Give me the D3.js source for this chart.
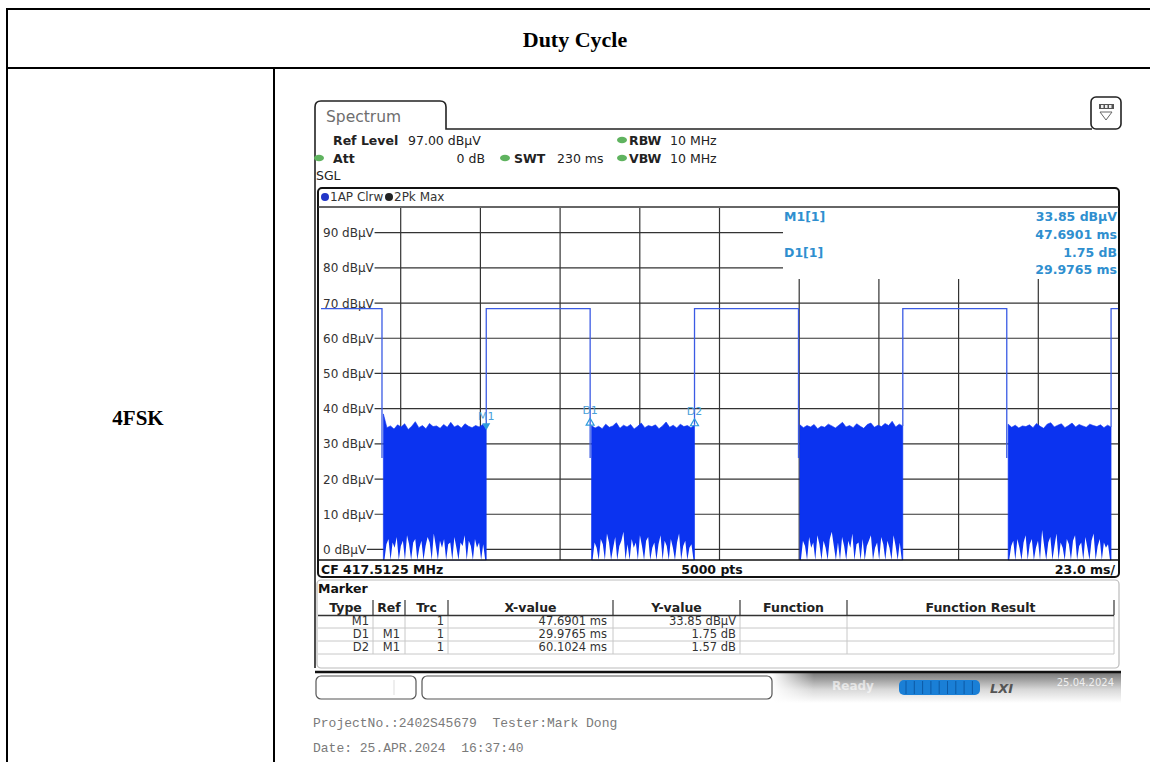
<!DOCTYPE html>
<meta charset="utf-8">
<head>
  <style>
    body { margin: 0; background: #fff; }
    svg text { font-family: "DejaVu Sans", Verdana, sans-serif; }
    .serif { font-family: "Liberation Serif", "Times New Roman", serif !important; font-weight: bold; }
    .mono { font-family: "Liberation Mono", "Courier New", monospace !important; fill: #7a7a7a; white-space: pre; }
  </style>
</head>
<body>
<div id="chart"></div>
<script src="https://d3js.org/d3.v7.min.js"></script>
<script>

// trace: high (carrier on) segments, in ms
var highStart = [0, 47.69, 107.79, 167.9, 228.0];
var highEnd = [17.6, 77.67, 137.8, 197.9, 230];
var highLevel = 68.4; // dBµV

// noise bursts between the pulses (dBµV)
var burstTop = [
  [38.5, 34.6, 35.1, 34.2, 35.4, 34.8, 35.7, 34.1, 35.0, 36.3, 34.6, 35.2, 34.3, 35.8, 34.9, 35.1, 34.4, 35.5, 34.7, 36.1, 34.8, 35.3, 34.5, 35.7, 35.0, 34.6, 35.2, 34.8, 35.5, 34.3],
  [35.2, 34.5, 35.0, 34.3, 35.6, 34.7, 35.1, 36.0, 34.4, 35.3, 34.8, 35.5, 34.2, 35.0, 35.9, 34.6, 35.2, 34.9, 35.4, 34.3, 35.1, 36.2, 34.7, 35.3, 34.5, 35.6, 34.9, 35.2, 34.6, 35.4],
  [35.4, 34.6, 35.2, 34.8, 35.5, 34.3, 35.0, 34.7, 35.6, 35.1, 34.5, 35.3, 36.1, 34.8, 35.2, 34.6, 35.7, 35.0, 34.4, 35.5, 35.9, 34.7, 35.3, 34.9, 35.8, 35.2, 36.4, 34.8, 35.6, 35.1],
  [35.6, 34.7, 35.3, 34.5, 35.1, 34.9, 35.4, 34.6, 35.8, 35.0, 34.4, 35.6, 36.0, 34.8, 35.3, 35.7, 34.6, 35.2, 35.9, 34.8, 35.5, 35.1, 34.7, 35.6, 35.2, 34.9, 35.4, 34.6, 35.3, 34.8]
];
// lower edge of the solid blue, where the white gaps between the bottom spikes reach up to
var burstBottom = [
  [-3, 1.5, 3.0, -3, 2.0, 0.5, 3.5, -3, 1.0, 2.5, -3, 4.0, 1.5, -3, 2.0, 3.0, -3, 0.5, 2.5, -3, 1.0, 3.5, 2.0, -3, 4.5, 1.0, -3, 2.5, 0.5, 3.0, -3, 1.5, 2.0, -3, 3.5, 0.5, -3, 2.0, 1.0, 4.0, -3, 2.5, 1.0, -3, 3.0, 0.5, 2.0, -3, 1.5, -3],
  [-3, 2.0, 0.5, -3, 3.0, 1.5, -3, 4.5, 2.0, -3, 0.5, 3.5, -3, 1.0, 2.5, 5.0, -3, 1.5, -3, 3.0, 0.5, 2.0, -3, 4.0, 1.0, -3, 2.5, 3.5, -3, 0.5, 2.0, -3, 1.5, 4.0, -3, 2.5, 1.0, -3, 3.0, 0.5, -3, 2.0, 4.5, -3, 1.0, 2.5, -3, 0.5, 1.5, -3],
  [-3, 2.5, 1.0, -3, 3.5, 0.5, 2.0, -3, 4.0, 1.5, -3, 2.5, 0.5, -3, 3.0, 5.0, 1.0, -3, 2.0, -3, 3.5, 1.0, -3, 2.5, 0.5, 4.5, -3, 1.5, 2.0, -3, 3.0, -3, 1.0, 2.5, 4.0, -3, 0.5, 2.0, -3, 3.5, 1.5, -3, 2.5, 0.5, -3, 4.0, 1.0, -3, 2.0, -3],
  [-3, 1.0, 2.5, -3, 3.0, 0.5, -3, 2.0, 4.0, -3, 1.5, 3.0, -3, 0.5, 2.5, -3, 5.5, 1.0, -3, 2.0, 3.5, -3, 1.0, 4.5, -3, 2.0, 0.5, -3, 3.0, 1.5, -3, 2.5, 4.0, -3, 1.0, 2.0, -3, 3.5, 0.5, -3, 2.5, 4.5, -3, 1.0, 3.0, -3, 2.0, 0.5, 1.5, -3]
];

var yTicks = [0, 10, 20, 30, 40, 50, 60, 70, 80, 90];
var gridTimes = [23, 46, 69, 92, 115, 138, 161, 184, 207];

var markerTime = [47.6901, 77.6666, 107.7925];
var markerLevel = [33.85, 35.6, 35.42];

var tblType = ["M1", "D1", "D2"];
var tblRef = ["", "M1", "M1"];
var tblTrc = ["1", "1", "1"];
var tblX = ["47.6901 ms", "29.9765 ms", "60.1024 ms"];
var tblY = ["33.85 dBµV", "1.75 dB", "1.57 dB"];
var tblHead = ["Type", "Ref", "Trc", "X-value", "Y-value", "Function", "Function Result"];

var svg = d3.select("#chart").append("svg")
  .attr("width", 1150).attr("height", 762);

// ---- outer report table ----
var black = "#000";
svg.append("line").attr("x1", 7).attr("x2", 1150).attr("y1", 9).attr("y2", 9).attr("stroke", black).attr("stroke-width", 2);
svg.append("line").attr("x1", 7).attr("x2", 1150).attr("y1", 68).attr("y2", 68).attr("stroke", black).attr("stroke-width", 2);
svg.append("line").attr("x1", 7).attr("x2", 7).attr("y1", 8).attr("y2", 762).attr("stroke", black).attr("stroke-width", 2);
svg.append("line").attr("x1", 274).attr("x2", 274).attr("y1", 68).attr("y2", 762).attr("stroke", black).attr("stroke-width", 2);
svg.append("text").attr("class", "serif").attr("x", 575).attr("y", 47)
  .attr("text-anchor", "middle").attr("font-size", 22).text("Duty Cycle");
svg.append("text").attr("class", "serif").attr("x", 138).attr("y", 425)
  .attr("text-anchor", "middle").attr("font-size", 21).text("4FSK");

// ---- instrument screen ----
var g = svg.append("g");

// tab + panel line
g.append("path")
  .attr("d", "M315,668 V107 Q315,101 321,101 H440 Q446,101 446,107 V129 H1092")
  .attr("fill", "none").attr("stroke", "#222").attr("stroke-width", 1.6);
g.append("text").attr("x", 326).attr("y", 122).attr("font-size", 15.5).attr("fill", "#6e6e6e").text("Spectrum");

// top-right icon
g.append("rect").attr("x", 1091).attr("y", 97).attr("width", 30).attr("height", 32).attr("rx", 5)
  .attr("fill", "#fff").attr("stroke", "#222").attr("stroke-width", 1.6);
g.append("rect").attr("x", 1099).attr("y", 104).attr("width", 15).attr("height", 5).attr("fill", "#555");
[1101, 1105, 1109].forEach(function(x) {
  g.append("rect").attr("x", x).attr("y", 105).attr("width", 2.5).attr("height", 3).attr("fill", "#eee");
});
g.append("path").attr("d", "M1100,112 L1112,112 L1106,120 Z").attr("fill", "#fff").attr("stroke", "#666");

// settings text
function dot(x, y) {
  g.append("ellipse").attr("cx", x).attr("cy", y).attr("rx", 5).attr("ry", 3.3).attr("fill", "#5fb35f");
}
function txt(x, y, s, bold, anchor) {
  return g.append("text").attr("x", x).attr("y", y).attr("font-size", 12.5)
    .attr("font-weight", bold ? "bold" : "normal").attr("fill", "#222")
    .attr("text-anchor", anchor || "start").text(s);
}
txt(333, 145, "Ref Level", true);
txt(408, 145, "97.00 dBµV");
dot(622, 140); txt(629, 145, "RBW", true); txt(670, 145, "10 MHz");
dot(319, 158); txt(333, 163, "Att", true);
txt(485, 163, "0 dB", false, "end");
dot(505, 158); txt(514, 163, "SWT", true); txt(557, 163, "230 ms");
dot(622, 158); txt(629, 163, "VBW", true); txt(670, 163, "10 MHz");
txt(316, 180, "SGL");

// diagram frame
g.append("rect").attr("x", 318).attr("y", 188).attr("width", 801).attr("height", 389).attr("rx", 4)
  .attr("fill", "#fff").attr("stroke", "#111").attr("stroke-width", 2);
g.append("line").attr("x1", 318).attr("x2", 1119).attr("y1", 207).attr("y2", 207).attr("stroke", "#333").attr("stroke-width", 1.5);
g.append("circle").attr("cx", 325).attr("cy", 197).attr("r", 4).attr("fill", "#2236c8");
g.append("text").attr("x", 330).attr("y", 201).attr("font-size", 12).attr("fill", "#333").text("1AP Clrw");
g.append("circle").attr("cx", 389).attr("cy", 197).attr("r", 4).attr("fill", "#222");
g.append("text").attr("x", 394).attr("y", 201).attr("font-size", 12).attr("fill", "#333").text("2Pk Max");

var x = d3.scaleLinear().domain([0, 230]).range([321, 1118]);
var y = d3.scaleLinear().domain([-3, 97]).range([560, 208]);

// marker info box region (grid hidden there)
var infoLeft = 783, infoBottom = 279;

var grid = g.append("g").attr("stroke", "#333").attr("stroke-width", 1.2);
gridTimes.forEach(function(t) {
  var px = x(t);
  grid.append("line").attr("x1", px).attr("x2", px)
    .attr("y1", px > infoLeft ? infoBottom : 208).attr("y2", 560);
});
yTicks.forEach(function(v) {
  grid.append("line").attr("x1", 321)
    .attr("x2", y(v) < infoBottom ? infoLeft : 1118)
    .attr("y1", y(v)).attr("y2", y(v));
});
yTicks.forEach(function(v) {
  var t = g.append("text").attr("x", 323).attr("y", y(v) + 4.5).attr("font-size", 12).attr("fill", "#333")
    .text(v + " dBµV");
  var bb = t.node().getBBox();
  g.insert("rect", function() { return t.node(); })
    .attr("x", 319.5).attr("y", bb.y).attr("width", bb.x + bb.width - 319.5).attr("height", bb.height)
    .attr("fill", "#fff");
});

// noise bursts: solid blue under the top envelope, white gaps cut from below
var fillBlue = "#0b33f0";
burstTop.forEach(function(top, b) {
  var t0 = highEnd[b] + 0.4, t1 = highStart[b + 1];
  var ix = d3.scaleLinear().domain([0, top.length - 1]).range([x(t0), x(t1)]);
  var area = d3.area()
    .x(function(d, i) { return ix(i); })
    .y1(function(d) { return y(d); })
    .y0(y(-3));
  g.append("path").datum(top).attr("d", area).attr("fill", fillBlue)
    .attr("stroke", fillBlue).attr("stroke-width", 0.6);

  var bot = burstBottom[b];
  var jx = d3.scaleLinear().domain([0, bot.length - 1]).range([x(t0) + 1, x(t1) - 1]);
  var gaps = d3.area()
    .x(function(d, i) { return jx(i); })
    .y1(function(d) { return y(d); })
    .y0(y(-3));
  g.append("path").datum(bot).attr("d", gaps).attr("fill", "#fff");
});

// pulse trace
var lineBlue = "#3b5be4";
var trace = d3.line().x(function(d) { return x(d[0]); }).y(function(d) { return y(d[1]); });
highStart.forEach(function(s, i) {
  var e = highEnd[i], pts = [];
  if (s > 0) pts.push([s, burstTop[i - 1][burstTop[i - 1].length - 1]]);
  pts.push([s, highLevel], [e, highLevel]);
  if (e < 230) pts.push([e, 26]);
  g.append("path").attr("d", trace(pts)).attr("fill", "none")
    .attr("stroke", lineBlue).attr("stroke-width", 1.3);
});

// markers
var mkColor = "#2f9bdc";
markerTime.forEach(function(t, i) {
  var px = x(t), py = y(markerLevel[i]);
  var label = i === 0 ? "M1" : "D" + i;
  if (i === 0) {
    g.append("path").attr("d", "M" + (px - 4) + "," + (py - 7) + " L" + (px + 4) + "," + (py - 7) + " L" + px + "," + py + " Z")
      .attr("fill", mkColor);
  } else {
    g.append("path").attr("d", "M" + (px - 4) + "," + (py + 1) + " L" + (px + 4) + "," + (py + 1) + " L" + px + "," + (py - 6) + " Z")
      .attr("fill", "none").attr("stroke", mkColor).attr("stroke-width", 1.2);
  }
  g.append("text").attr("x", px).attr("y", py - 10).attr("text-anchor", "middle")
    .attr("font-size", 11).attr("fill", "#4a9fd8").text(label);
});

// marker info text
var info = [["M1[1]", "33.85 dBµV", 221], ["", "47.6901 ms", 239], ["D1[1]", "1.75 dB", 257], ["", "29.9765 ms", 274]];
info.forEach(function(r) {
  g.append("text").attr("x", 784).attr("y", r[2]).attr("font-size", 12.5).attr("font-weight", "bold")
    .attr("fill", "#2f8fcf").text(r[0]);
  g.append("text").attr("x", 1117).attr("y", r[2]).attr("font-size", 12.5).attr("font-weight", "bold")
    .attr("fill", "#2f8fcf").attr("text-anchor", "end").text(r[1]);
});

// bottom axis bar
g.append("line").attr("x1", 318).attr("x2", 1119).attr("y1", 560).attr("y2", 560).attr("stroke", "#111").attr("stroke-width", 1.5);
g.append("text").attr("x", 321).attr("y", 574).attr("font-size", 12.5).attr("font-weight", "bold").attr("fill", "#111").text("CF 417.5125 MHz");
g.append("text").attr("x", 712).attr("y", 574).attr("font-size", 12.5).attr("font-weight", "bold").attr("fill", "#111").attr("text-anchor", "middle").text("5000 pts");
g.append("text").attr("x", 1115).attr("y", 574).attr("font-size", 12.5).attr("font-weight", "bold").attr("fill", "#111").attr("text-anchor", "end").text("23.0 ms/");

// marker table
g.append("rect").attr("x", 317).attr("y", 580).attr("width", 802).attr("height", 88).attr("rx", 4)
  .attr("fill", "#fff").attr("stroke", "#bbb").attr("stroke-width", 1.2);
g.append("text").attr("x", 318).attr("y", 593).attr("font-size", 12.5).attr("font-weight", "bold").attr("fill", "#111").text("Marker");
var cols = [318, 373, 405, 448, 613, 740, 847, 1114];
var rowY = [621, 634, 647];
tblHead.forEach(function(h, i) {
  g.append("text").attr("x", (cols[i] + cols[i + 1]) / 2).attr("y", 612).attr("text-anchor", "middle")
    .attr("font-size", 12.5).attr("font-weight", "bold").attr("fill", "#222").text(h);
});
cols.forEach(function(c, i) {
  if (i === 0) return;
  g.append("line").attr("x1", c).attr("x2", c).attr("y1", 600).attr("y2", 615).attr("stroke", "#444").attr("stroke-width", 1.3);
  g.append("line").attr("x1", c).attr("x2", c).attr("y1", 615).attr("y2", 654).attr("stroke", "#c8c8c8");
});
g.append("line").attr("x1", 318).attr("x2", 1114).attr("y1", 615.5).attr("y2", 615.5).attr("stroke", "#333").attr("stroke-width", 1.5);
[628, 641, 654].forEach(function(ly) {
  g.append("line").attr("x1", 318).attr("x2", 1114).attr("y1", ly).attr("y2", ly).attr("stroke", "#c8c8c8");
});
function cell(xp, yp, s, anchor) {
  g.append("text").attr("x", xp).attr("y", yp + 4).attr("font-size", 11.5).attr("fill", "#333")
    .attr("text-anchor", anchor).text(s);
}
rowY.forEach(function(ry, i) {
  cell(369, ry, tblType[i], "end");
  cell(400, ry, tblRef[i], "end");
  cell(444, ry, tblTrc[i], "end");
  cell(607, ry, tblX[i], "end");
  cell(736, ry, tblY[i], "end");
});

// status bar
var defs = svg.append("defs");
var gr = defs.append("linearGradient").attr("id", "sb").attr("x1", 0).attr("x2", 0).attr("y1", 0).attr("y2", 1);
gr.append("stop").attr("offset", "0%").attr("stop-color", "#7a7a7a");
gr.append("stop").attr("offset", "55%").attr("stop-color", "#d8d8d8");
gr.append("stop").attr("offset", "100%").attr("stop-color", "#fff");
var gr2 = defs.append("linearGradient").attr("id", "sbfade").attr("x1", 0).attr("x2", 1).attr("y1", 0).attr("y2", 0);
gr2.append("stop").attr("offset", "0%").attr("stop-color", "#fff").attr("stop-opacity", 1);
gr2.append("stop").attr("offset", "12%").attr("stop-color", "#fff").attr("stop-opacity", 0);
g.append("rect").attr("x", 772).attr("y", 673).attr("width", 349).attr("height", 30).attr("fill", "url(#sb)");
g.append("rect").attr("x", 772).attr("y", 673).attr("width", 349).attr("height", 30).attr("fill", "url(#sbfade)");
g.append("line").attr("x1", 315).attr("x2", 1121).attr("y1", 672).attr("y2", 672).attr("stroke", "#111").attr("stroke-width", 2.5);
g.append("rect").attr("x", 316).attr("y", 676).attr("width", 100).attr("height", 23).attr("rx", 5)
  .attr("fill", "#fff").attr("stroke", "#555").attr("stroke-width", 1.2);
g.append("line").attr("x1", 394).attr("x2", 394).attr("y1", 680).attr("y2", 695).attr("stroke", "#ddd");
g.append("rect").attr("x", 422).attr("y", 676).attr("width", 350).attr("height", 23).attr("rx", 5)
  .attr("fill", "#fff").attr("stroke", "#555").attr("stroke-width", 1.2);
g.append("text").attr("x", 832).attr("y", 690).attr("font-size", 12).attr("font-weight", "bold")
  .attr("fill", "#fff").attr("opacity", 0.6).text("Ready");
g.append("rect").attr("x", 899).attr("y", 680).attr("width", 81).attr("height", 15).attr("rx", 5).attr("fill", "#1a7fd6");
d3.range(9).forEach(function(k) {
  g.append("line").attr("x1", 906 + k * 8.3).attr("x2", 906 + k * 8.3).attr("y1", 681).attr("y2", 694)
    .attr("stroke", "#0d5aa6").attr("stroke-width", 1);
});
g.append("text").attr("x", 990).attr("y", 693).attr("font-size", 13).attr("font-weight", "bold")
  .attr("font-style", "italic").attr("fill", "#555").text("LXI");
g.append("text").attr("x", 1114).attr("y", 686).attr("font-size", 10).attr("fill", "#fff")
  .attr("opacity", 0.8).attr("text-anchor", "end").text("25.04.2024");

// footer
svg.append("text").attr("class", "mono").attr("x", 313).attr("y", 727).attr("font-size", 13)
  .attr("xml:space", "preserve").text("ProjectNo.:2402S45679  Tester:Mark Dong");
svg.append("text").attr("class", "mono").attr("x", 313).attr("y", 752).attr("font-size", 13)
  .attr("xml:space", "preserve").text("Date: 25.APR.2024  16:37:40");

</script>
</body>
